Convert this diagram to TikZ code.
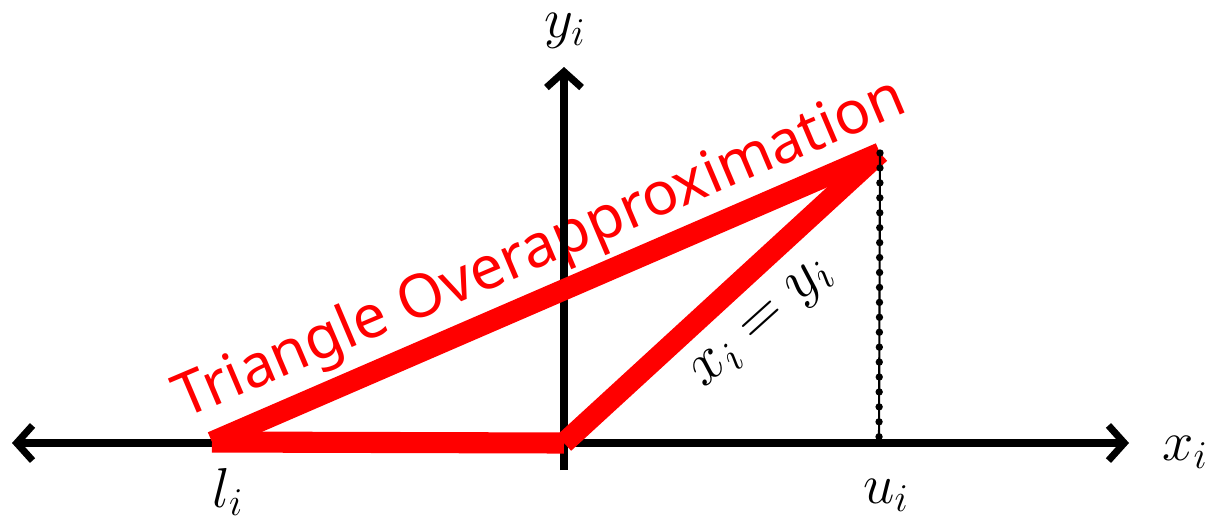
\documentclass[tikz,border=0pt]{standalone}
\usepackage{fix-cm}
\usepackage{fontspec}
\usetikzlibrary{arrows.meta}
\newfontfamily\notefont{Noto Sans}
\tikzset{
  axis/.style={line width=4pt,black},
  axtip/.style={-{Straight Barb[length=9pt,width=20pt]}},
  tri/.style={line width=12pt,red,line cap=butt},
  mlabel/.style={font=\fontsize{32}{38}\selectfont,inner sep=0pt},
  note/.style={font=\notefont\fontsize{34}{40}\selectfont,red,inner sep=0pt},
  dotline/.style={line width=1.2pt,black},
  dotmarks/.style={line width=4.2pt,line cap=round,dash pattern=on 0pt off 8.5pt},
}
\begin{document}
\begin{tikzpicture}[x=0.02cm,y=-0.02cm]
\useasboundingbox (0,0) rectangle (1214,521);
% points
\coordinate (O) at (564,443);
\coordinate (xl) at (12,443);
\coordinate (xr) at (1129,443);
\coordinate (yb) at (564,470);
\coordinate (yt) at (564,67);
\coordinate (L) at (212,442);
\coordinate (U) at (880,153);
\coordinate (Uf) at (879,443);
% text along the hull
\node[note,anchor=base,rotate=23] (hull) at (547,265) {Triangle Overapproximation};
% axes
\draw[axis,{Straight Barb[length=9pt,width=20pt]}-{Straight Barb[length=9pt,width=20pt]}] (xl) -- (xr);
\draw[axis,axtip] (yb) -- (yt);
% triangle
\draw[tri] (L) -- (O);
\draw[tri] (O) -- (U);
\draw[tri] (U) -- (L);
% upper bound
\draw[dotline] (U) -- (Uf);
\draw[dotmarks] (U) -- (Uf);
% labels
\node[mlabel,anchor=base] (ylab) at (565,37) {$y_i$};
\node[mlabel,anchor=base] (xlab) at (1185,460) {$x_i$};
\node[mlabel,anchor=base] (llab) at (228,507) {$l_i$};
\node[mlabel,anchor=base] (ulab) at (886,503) {$u_i$};
\node[mlabel,font=\fontsize{35}{42}\selectfont,anchor=base,rotate=42] (eq) at (769,331) {$x_i = y_i$};
\end{tikzpicture}
\end{document}
